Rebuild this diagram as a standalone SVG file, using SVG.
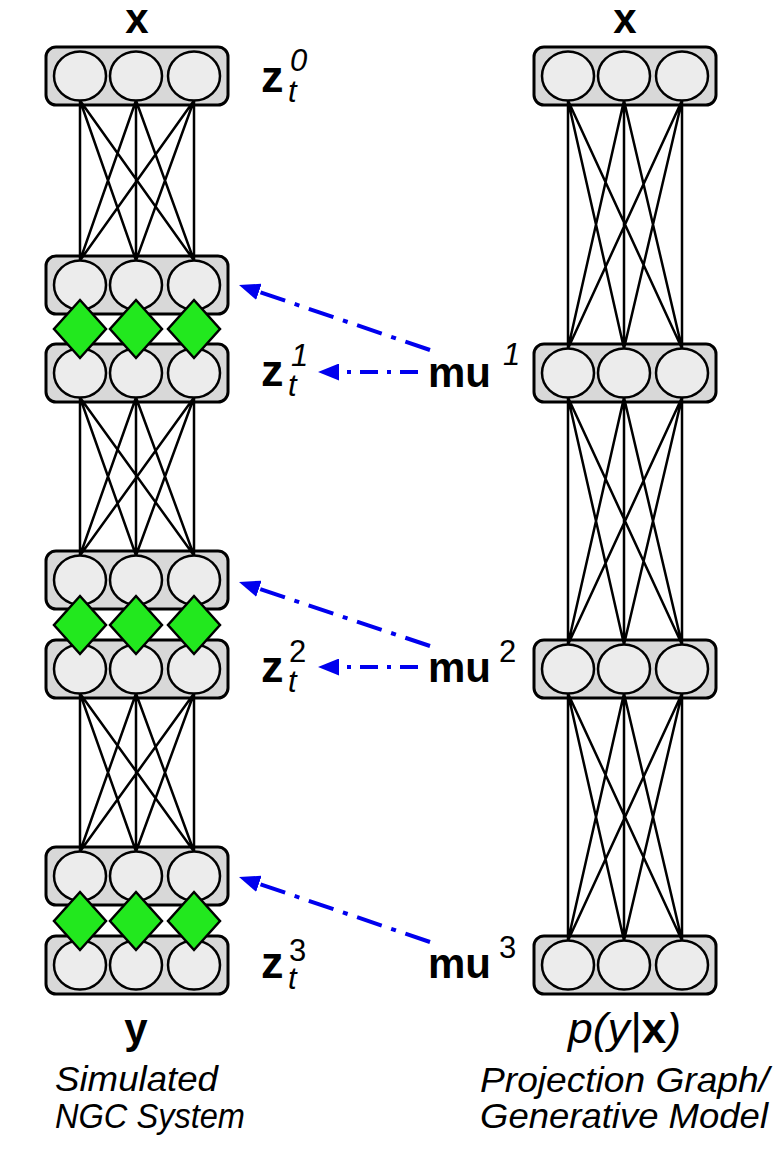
<svg xmlns="http://www.w3.org/2000/svg" width="780" height="1154" viewBox="0 0 780 1154">
<style>
.box{fill:#d8d8d8;stroke:#000;stroke-width:3}
.cir{fill:#ececec;stroke:#000;stroke-width:2.5}
.dia{fill:#22e81e;stroke:#000;stroke-width:2.5}
.ln{stroke:#000;stroke-width:2.5;fill:none}
.bl{font-family:"Liberation Sans",Arial,sans-serif;font-weight:bold;font-size:42px;fill:#000}
.bz{font-family:"Liberation Sans",Arial,sans-serif;font-weight:bold;font-size:45px;fill:#000}
.it{font-family:"Liberation Sans",Arial,sans-serif;font-style:italic;font-size:31px;fill:#000}
.rg{font-family:"Liberation Sans",Arial,sans-serif;font-size:31px;fill:#000}
.cap{font-family:"Liberation Sans",Arial,sans-serif;font-style:italic;font-size:35px;fill:#000}
.arr{stroke:#0000ee;stroke-width:4;fill:none}
.dg{stroke-dasharray:26 10 5 10}
.hz{stroke-dasharray:18 9 4 9}
</style>
<defs>
<marker id="ah" markerUnits="userSpaceOnUse" viewBox="0 0 21 17" refX="0" refY="8.5" markerWidth="21" markerHeight="17" orient="auto">
<path d="M0,0 L21,8.5 L0,17 Z" fill="#0000ee"/>
</marker>
<g id="rowL">
<ellipse class="cir" cx="80" cy="0" rx="26" ry="24.5"/>
<ellipse class="cir" cx="136" cy="0" rx="26" ry="24.5"/>
<ellipse class="cir" cx="194" cy="0" rx="26" ry="24.5"/>
</g>
<g id="rowR">
<ellipse class="cir" cx="568" cy="0" rx="26" ry="24.5"/>
<ellipse class="cir" cx="624" cy="0" rx="26" ry="24.5"/>
<ellipse class="cir" cx="682" cy="0" rx="26" ry="24.5"/>
</g>
<g id="dias">
<path class="dia" d="M80,-29 L106,0 L80,29 L54,0 Z"/>
<path class="dia" d="M136,-29 L162,0 L136,29 L110,0 Z"/>
<path class="dia" d="M194,-29 L220,0 L194,29 L168,0 Z"/>
</g>
</defs>

<g id="L0"><rect class="box" x="46" y="47" width="182" height="58" rx="10"/><use href="#rowL" y="76"/></g>
<g id="L1a"><rect class="box" x="46" y="256" width="182" height="58" rx="10"/><use href="#rowL" y="285"/></g>
<g id="L1b"><rect class="box" x="46" y="344" width="182" height="58" rx="10"/><use href="#rowL" y="373"/></g>
<g id="L2a"><rect class="box" x="46" y="551" width="182" height="58" rx="10"/><use href="#rowL" y="580"/></g>
<g id="L2b"><rect class="box" x="46" y="640" width="182" height="58" rx="10"/><use href="#rowL" y="669"/></g>
<g id="L3a"><rect class="box" x="46" y="847" width="182" height="58" rx="10"/><use href="#rowL" y="876"/></g>
<g id="L3b"><rect class="box" x="46" y="936" width="182" height="58" rx="10"/><use href="#rowL" y="965"/></g>
<g id="R0"><rect class="box" x="534" y="47" width="182" height="58" rx="10"/><use href="#rowR" y="76"/></g>
<g id="R1"><rect class="box" x="534" y="344" width="182" height="58" rx="10"/><use href="#rowR" y="373"/></g>
<g id="R2"><rect class="box" x="534" y="640" width="182" height="58" rx="10"/><use href="#rowR" y="669"/></g>
<g id="R3"><rect class="box" x="534" y="936" width="182" height="58" rx="10"/><use href="#rowR" y="965"/></g>

<g id="D1"><use href="#dias" y="329"/></g>
<g id="D2"><use href="#dias" y="625"/></g>
<g id="D3"><use href="#dias" y="921"/></g>

<g id="connectors">
<path class="ln" d="M80,100.5L80,260.5M80,100.5L136,260.5M80,100.5L194,260.5M136,100.5L80,260.5M136,100.5L136,260.5M136,100.5L194,260.5M194,100.5L80,260.5M194,100.5L136,260.5M194,100.5L194,260.5"/>
<path class="ln" d="M80,397.5L80,555.5M80,397.5L136,555.5M80,397.5L194,555.5M136,397.5L80,555.5M136,397.5L136,555.5M136,397.5L194,555.5M194,397.5L80,555.5M194,397.5L136,555.5M194,397.5L194,555.5"/>
<path class="ln" d="M80,693.5L80,851.5M80,693.5L136,851.5M80,693.5L194,851.5M136,693.5L80,851.5M136,693.5L136,851.5M136,693.5L194,851.5M194,693.5L80,851.5M194,693.5L136,851.5M194,693.5L194,851.5"/>
<path class="ln" d="M568,100.5L568,348.5M568,100.5L624,348.5M568,100.5L682,348.5M624,100.5L568,348.5M624,100.5L624,348.5M624,100.5L682,348.5M682,100.5L568,348.5M682,100.5L624,348.5M682,100.5L682,348.5"/>
<path class="ln" d="M568,397.5L568,644.5M568,397.5L624,644.5M568,397.5L682,644.5M624,397.5L568,644.5M624,397.5L624,644.5M624,397.5L682,644.5M682,397.5L568,644.5M682,397.5L624,644.5M682,397.5L682,644.5"/>
<path class="ln" d="M568,693.5L568,940.5M568,693.5L624,940.5M568,693.5L682,940.5M624,693.5L568,940.5M624,693.5L624,940.5M624,693.5L682,940.5M682,693.5L568,940.5M682,693.5L624,940.5M682,693.5L682,940.5"/>
<line class="arr dg" x1="430" y1="350" x2="258.9" y2="291.8" marker-end="url(#ah)"/>
<line class="arr hz" x1="418" y1="372" x2="339" y2="372" marker-end="url(#ah)"/>
<line class="arr dg" x1="430" y1="646" x2="258.9" y2="588.7" marker-end="url(#ah)"/>
<line class="arr hz" x1="418" y1="667" x2="339" y2="667" marker-end="url(#ah)"/>
<line class="arr dg" x1="430" y1="942" x2="258.9" y2="883.8" marker-end="url(#ah)"/>
</g>

<g id="labels">
<text class="bl" x="137" y="33" text-anchor="middle">x</text>
<text class="bl" x="625" y="33" text-anchor="middle">x</text>
<text class="bz" x="261" y="92">z</text><text class="it" x="290" y="71">0</text><text class="it" x="288" y="102">t</text>
<text class="bz" x="261" y="386">z</text><text class="it" x="291" y="366">1</text><text class="it" x="288" y="396">t</text>
<text class="bz" x="261" y="682">z</text><text class="rg" x="289" y="662">2</text><text class="it" x="288" y="692">t</text>
<text class="bz" x="261" y="978">z</text><text class="rg" x="289" y="961">3</text><text class="it" x="288" y="989">t</text>
<text class="bl" x="428" y="387">mu</text><text class="it" x="503" y="365">1</text>
<text class="bl" x="428" y="682">mu</text><text class="rg" x="499" y="662">2</text>
<text class="bl" x="428" y="978">mu</text><text class="rg" x="499" y="958">3</text>
<text class="bl" x="136" y="1043" text-anchor="middle">y</text>
<text x="568" y="1043" font-family="Liberation Sans, Arial, sans-serif" font-size="43" textLength="113" lengthAdjust="spacingAndGlyphs"><tspan font-style="italic">p(y|</tspan><tspan font-weight="bold">x</tspan><tspan font-style="italic">)</tspan></text>
<text class="cap" x="55" y="1091" textLength="163" lengthAdjust="spacingAndGlyphs">Simulated</text>
<text class="cap" x="55" y="1128" textLength="190" lengthAdjust="spacingAndGlyphs">NGC System</text>
<text class="cap" x="480" y="1092" textLength="289" lengthAdjust="spacingAndGlyphs">Projection Graph/</text>
<text class="cap" x="480" y="1128" textLength="288" lengthAdjust="spacingAndGlyphs">Generative Model</text>
</g>
</svg>
